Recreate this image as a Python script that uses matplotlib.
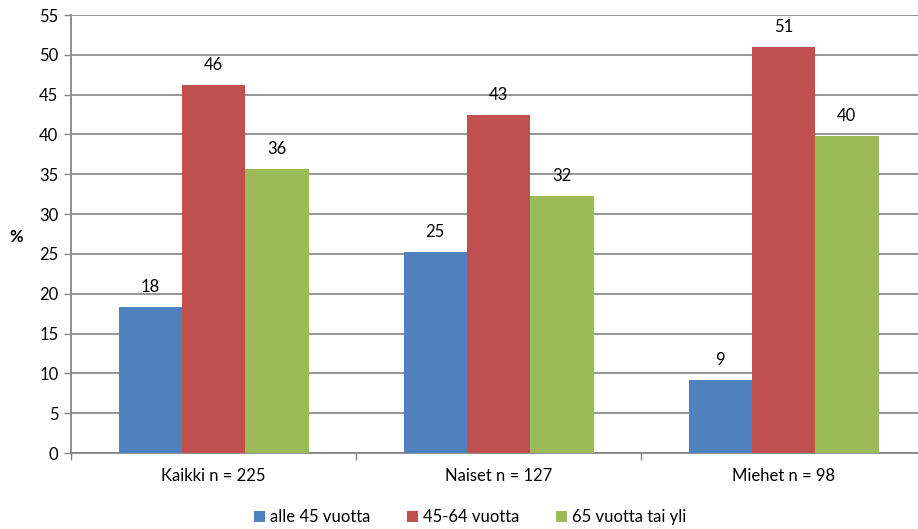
import matplotlib as mpl
import numpy as np
import matplotlib.pyplot as plt

plt.rcParams['font.family'] = ['Lato', 'DejaVu Sans']

categories = ['Kaikki n = 225', 'Naiset n = 127', 'Miehet n = 98']
series = ['alle 45 vuotta', '45-64 vuotta', '65 vuotta tai yli']
values = [
    [18.3, 25.2, 9.2],
    [46.2, 42.5, 51.0],
    [35.6, 32.3, 39.8],
]
labels = [
    [18, 25, 9],
    [46, 43, 51],
    [36, 32, 40],
]
colors = ['#4F81BD', '#C0504D', '#9BBB59']

fig = plt.figure(figsize=(9.18, 5.29), dpi=100)
ax = fig.add_axes([71/918, 1-453/529, 855/918, 438/529])

bw = 1/4.5
x = np.arange(len(categories))
for i in range(3):
    pos = x + (i-1)*bw
    ax.bar(pos, values[i], width=bw, color=colors[i], label=series[i], zorder=3)
    for px, v, l in zip(pos, values[i], labels[i]):
        ax.annotate(str(l), (px, v), xytext=(0, 20*0.72), textcoords='offset points',
                    ha='center', va='center', fontsize=12, color='black')

ax.set_xlim(-0.5, 2.5)
ax.set_ylim(0, 55)
ax.set_yticks(range(0, 56, 5))
ax.set_xticks([-0.5, 0.5, 1.5, 2.5])
ax.set_xticklabels([])
ax.set_xticks(x, minor=True)
ax.set_xticklabels(categories, minor=True)
ax.tick_params(axis='x', which='minor', length=0, pad=11, labelsize=12)
ax.tick_params(axis='x', which='major', length=5, color='#868686', width=1)
ax.tick_params(axis='y', length=5, color='#868686', width=1, labelsize=12, pad=4)
ax.grid(axis='y', color='#8c8c8c', linewidth=1.3, zorder=0)
for s in ['top', 'right']:
    ax.spines[s].set_visible(False)
for s in ['left', 'bottom']:
    ax.spines[s].set_color('#868686')
    ax.spines[s].set_linewidth(1.3)
ax.set_axisbelow(True)

fig.text(16/918, 1-237/529, '%', fontsize=12, fontweight='bold', ha='center', va='center')

fig.legend(loc='center', bbox_to_anchor=(470/918, 1-517/529), ncol=3, frameon=False,
           fontsize=12, handlelength=0.65, handleheight=0.65, handletextpad=0.3,
           columnspacing=2.2)

plt.savefig('out.png', dpi=100)
